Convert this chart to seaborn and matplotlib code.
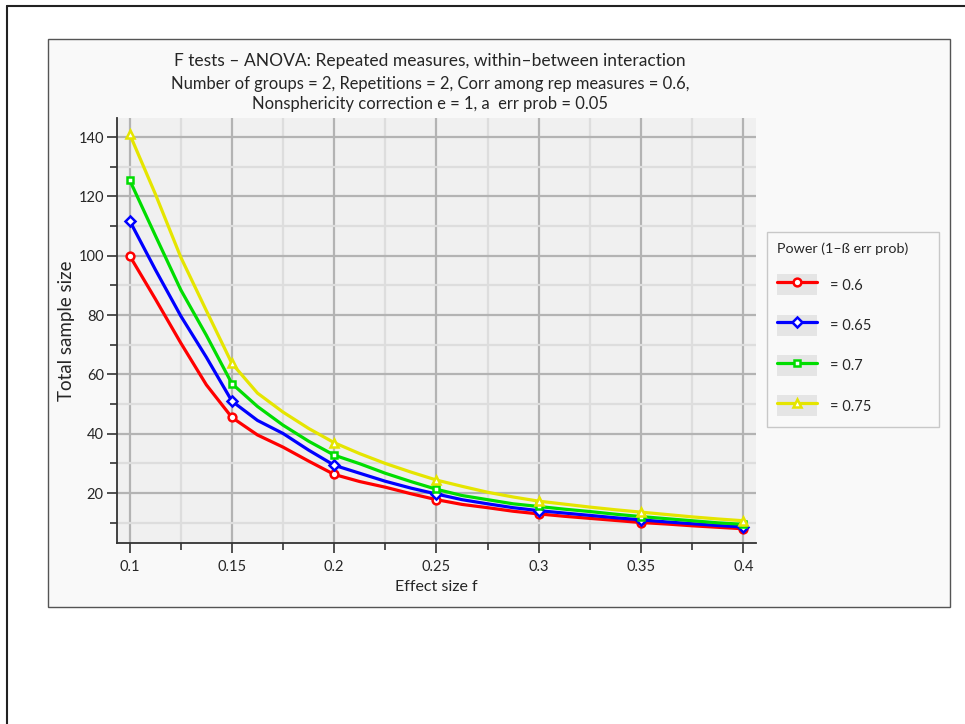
import numpy as np
import pandas as pd
import matplotlib
matplotlib.use("Agg")
import matplotlib.pyplot as plt
import seaborn as sns
from matplotlib.legend_handler import HandlerLine2D
from matplotlib.patches import Rectangle
from matplotlib.lines import Line2D
from matplotlib.ticker import MultipleLocator

# effect size f (x axis)
effect_size = [0.1, 0.1125, 0.125, 0.1375, 0.15, 0.1625, 0.175, 0.1875, 0.2,
               0.2125, 0.225, 0.2375, 0.25, 0.2625, 0.275, 0.2875, 0.3,
               0.3125, 0.325, 0.3375, 0.35, 0.3625, 0.375, 0.3875, 0.4]

# total sample size per power level
n_p60 = [100.0, 85.5, 70.6, 56.5, 45.5, 39.6, 35.5, 30.8, 26.3,
         23.9, 22.0, 19.8, 17.8, 16.2, 15.1, 13.9, 13.0,
         12.2, 11.5, 10.8, 10.1, 9.6, 9.0, 8.5, 8.0]
n_p65 = [111.8, 95.4, 79.7, 65.8, 51.0, 44.5, 40.1, 34.5, 29.4,
         26.7, 24.0, 21.7, 19.7, 17.8, 16.4, 15.1, 14.1,
         13.3, 12.5, 11.7, 11.0, 10.3, 9.7, 9.1, 8.6]
n_p70 = [125.5, 106.9, 88.5, 73.2, 56.9, 49.2, 42.9, 37.5, 32.8,
         29.9, 26.7, 23.9, 21.3, 19.2, 17.8, 16.4, 15.5,
         14.6, 13.8, 12.9, 12.1, 11.4, 10.7, 10.0, 9.5]
n_p75 = [141.0, 120.9, 99.5, 81.5, 63.7, 53.7, 47.3, 41.8, 37.0,
         33.3, 30.0, 27.1, 24.4, 22.3, 20.3, 18.7, 17.3,
         16.3, 15.3, 14.4, 13.6, 12.8, 12.0, 11.3, 10.7]

power_labels = ["= 0.6", "= 0.65", "= 0.7", "= 0.75"]
x_ticks = [0.1, 0.15, 0.2, 0.25, 0.3, 0.35, 0.4]
x_tick_labels = ["0.1", "0.15", "0.2", "0.25", "0.3", "0.35", "0.4"]
y_ticks = [20, 40, 60, 80, 100, 120, 140]

title = "F tests – ANOVA: Repeated measures, within–between interaction"
sub1 = "Number of groups = 2, Repetitions = 2, Corr among rep measures = 0.6,"
sub2 = "Nonsphericity correction e = 1, a  err prob = 0.05"


class ShadedLine(HandlerLine2D):
    # legend sample drawn on a light grey box, like the original
    def create_artists(self, legend, orig_handle, xdescent, ydescent,
                       width, height, fontsize, trans):
        arts = super().create_artists(legend, orig_handle, xdescent, ydescent,
                                      width, height, fontsize, trans)
        box = Rectangle((-xdescent, -ydescent), width, height,
                        facecolor="#e5e5e5", edgecolor="none", transform=trans)
        return [box] + list(arts)


def main():
    sns.set_style("white")
    plt.rcParams['font.family'] = ['Lato', 'DejaVu Sans']

    df = pd.DataFrame({"f": effect_size, "p60": n_p60, "p65": n_p65,
                       "p70": n_p70, "p75": n_p75})

    fig = plt.figure(figsize=(9.65, 7.24), dpi=100, facecolor="white")

    # outer frame + grey panel behind the chart
    fig.add_artist(Line2D([0.0076, 0.0076], [0.0, 0.9913], color="#222222",
                          lw=1.5, transform=fig.transFigure))
    fig.add_artist(Line2D([0.0076, 1.0], [0.9913, 0.9913], color="#222222",
                          lw=1.5, transform=fig.transFigure))
    fig.add_artist(Rectangle((0.05, 0.1616), 0.9344, 0.7845,
                             facecolor="#f9f9f9", edgecolor="#555555",
                             lw=1.0, transform=fig.transFigure, zorder=0))

    ax = fig.add_axes([0.1212, 0.25, 0.6622, 0.587])
    ax.set_facecolor("#f0f0f0")

    series = [("p60", "#ff0000", "o", 5.6),
              ("p65", "#0000ff", "D", 4.8),
              ("p70", "#00dd00", "s", 5.0),
              ("p75", "#e5e500", "^", 6.0)]
    for (col, c, m, ms), lbl in zip(series, power_labels):
        sns.lineplot(data=df, x="f", y=col, ax=ax, color=c, linewidth=2.3,
                     marker=m, markevery=4, markersize=ms,
                     markerfacecolor="white", markeredgecolor=c,
                     markeredgewidth=1.8, label=lbl, legend=False)

    ax.set_xlim(0.0938, 0.4062)
    ax.set_ylim(3.2, 146.4)
    ax.set_xticks(x_ticks)
    ax.set_xticklabels(x_tick_labels)
    ax.set_yticks(y_ticks)
    ax.xaxis.set_minor_locator(MultipleLocator(0.025))
    ax.yaxis.set_minor_locator(MultipleLocator(10))

    ax.grid(which="major", color="#b3b3b3", linewidth=1.6)
    ax.grid(which="minor", color="#dddddd", linewidth=1.6)
    ax.set_axisbelow(True)

    for s in ["top", "right"]:
        ax.spines[s].set_visible(False)
    for s in ["left", "bottom"]:
        ax.spines[s].set_color("#333333")
        ax.spines[s].set_linewidth(1.3)

    ax.tick_params(which="both", direction="out", color="#333333", width=1.2,
                   labelsize=10.5, left=True, bottom=True)
    ax.tick_params(which="major", length=7.5)
    ax.tick_params(which="minor", length=5)
    ax.tick_params(axis="y", pad=2)
    ax.tick_params(axis="x", pad=5)

    ax.set_xlabel("Effect size f", fontsize=11.5, labelpad=4)
    ax.set_ylabel("Total sample size", fontsize=13.5, labelpad=2)

    fig.text(0.4456, 0.9093, title, ha="center", va="baseline", fontsize=12.5)
    fig.text(0.4456, 0.8766, sub1, ha="center", va="baseline", fontsize=11.9)
    fig.text(0.4456, 0.849, sub2, ha="center", va="baseline", fontsize=11.9)

    handles, labels = ax.get_legend_handles_labels()
    leg = ax.legend(handles, labels, title="Power (1–ß err prob)",
                    loc="upper left",
                    bbox_to_anchor=(0.7945, 0.4061, 0.1785, 0.2735),
                    bbox_transform=fig.transFigure, mode="expand",
                    frameon=True, fancybox=False,
                    fontsize=10.5, title_fontsize=10.3, numpoints=1,
                    handlelength=2.7, handleheight=1.85, handletextpad=0.9,
                    labelspacing=1.32, borderpad=0.72, borderaxespad=0,
                    alignment="left",
                    handler_map={Line2D: ShadedLine()})
    leg.get_frame().set_facecolor("#f9f9f9")
    leg.get_frame().set_edgecolor("#c8c8c8")
    leg.get_frame().set_linewidth(1.0)
    leg.get_frame().set_alpha(1)

    fig.savefig("out.png", dpi=100, facecolor="white")


if __name__ == "__main__":
    main()
